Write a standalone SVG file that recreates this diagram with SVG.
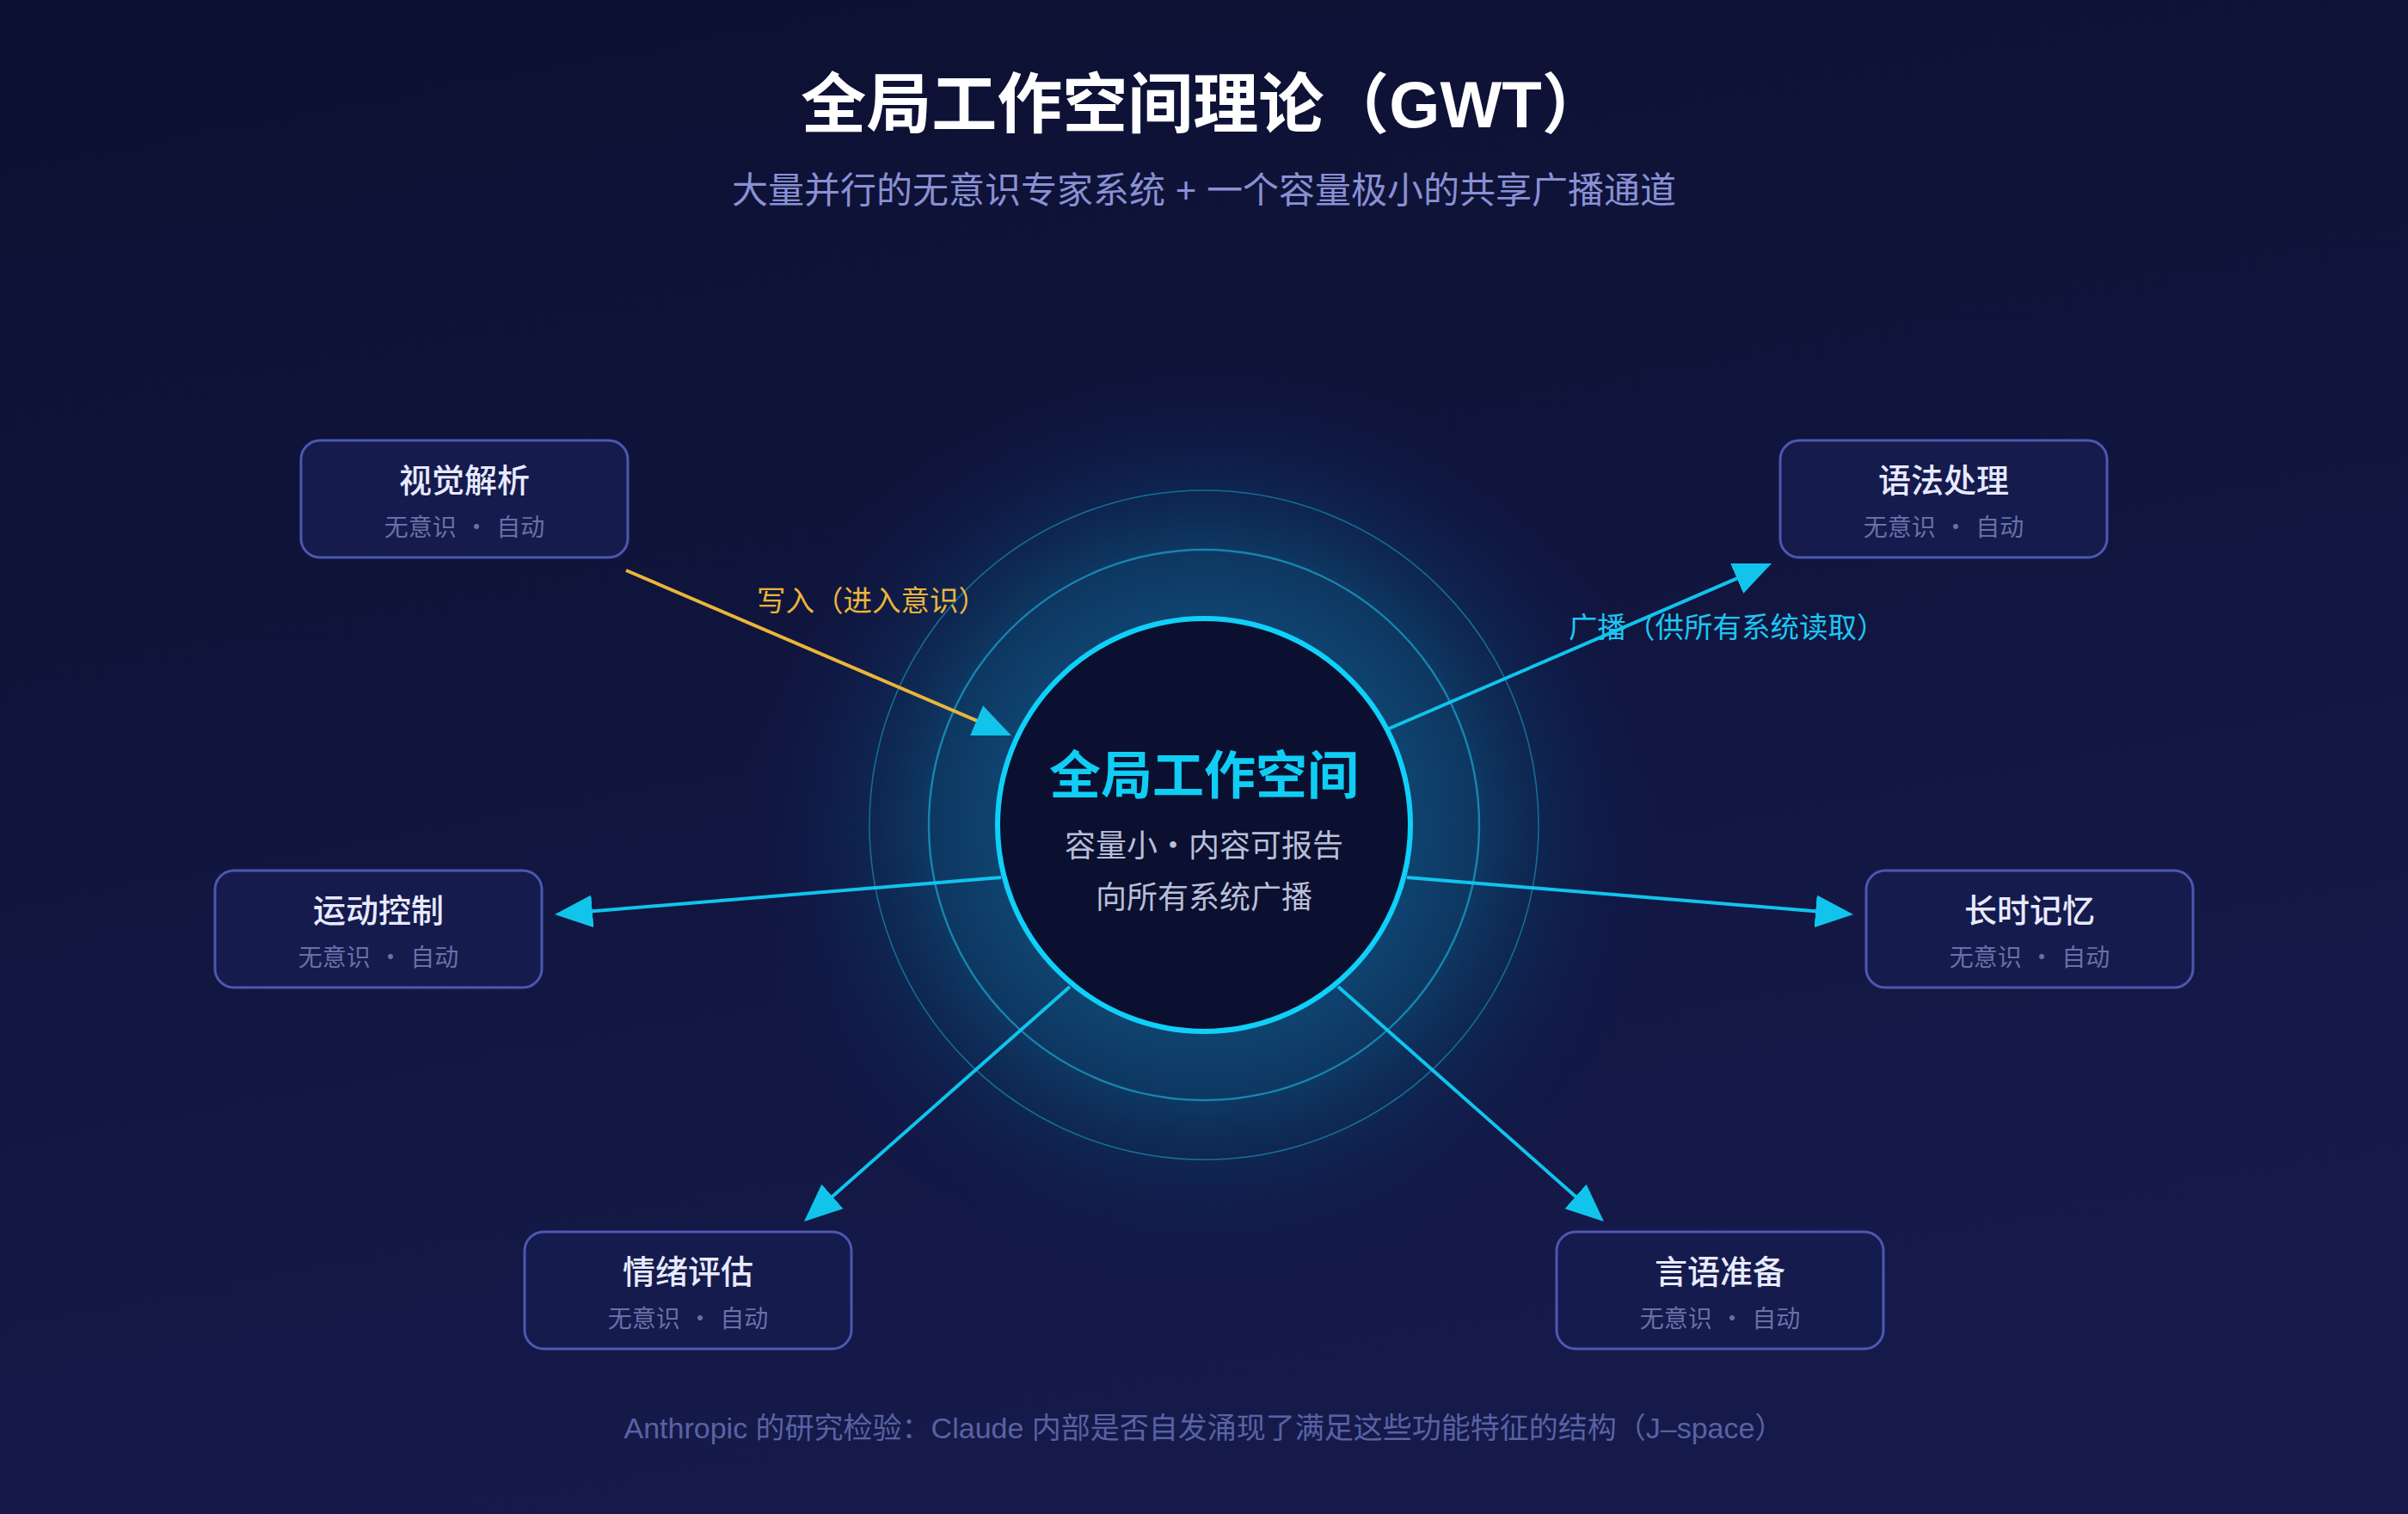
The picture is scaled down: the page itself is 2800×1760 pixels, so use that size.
<svg xmlns="http://www.w3.org/2000/svg" width="2800" height="1760" viewBox="0 0 2800 1760">
  <defs>
    <linearGradient id="bg" x1="0" y1="0" x2="0.3" y2="1">
      <stop offset="0" stop-color="#0c1031"/>
      <stop offset="1" stop-color="#151a4a"/>
    </linearGradient>
    <radialGradient id="glow" gradientUnits="userSpaceOnUse" cx="1400" cy="959" r="540">
      <stop offset="0" stop-color="#0f4a78" stop-opacity="1"/>
      <stop offset="0.44" stop-color="#0f4470" stop-opacity="1"/>
      <stop offset="0.6" stop-color="#0d3a64" stop-opacity="0.9"/>
      <stop offset="0.73" stop-color="#0d2c58" stop-opacity="0.65"/>
      <stop offset="0.88" stop-color="#0e2050" stop-opacity="0.25"/>
      <stop offset="1" stop-color="#0e1a48" stop-opacity="0"/>
    </radialGradient>
    <marker id="arrow" markerUnits="userSpaceOnUse" markerWidth="46" markerHeight="38" refX="36" refY="19" orient="auto">
      <path d="M0,0 L44,19 L0,38 z" fill="#10c4ec"/>
    </marker>
    <style>
      text { font-family: "Liberation Sans", "Noto Sans CJK SC", sans-serif; }
      .node rect { fill: #151b4d; stroke: #4c58b0; stroke-width: 3; }
      .nt { font-size: 38px; fill: #e8eaff; text-anchor: middle; font-weight: 500; }
      .ns { font-family: "Noto Sans CJK SC", sans-serif; font-size: 28px; fill: #6a70a8; text-anchor: middle; word-spacing: 3px; }
      .conn { fill: none; stroke-width: 4; stroke-linecap: butt; marker-end: url(#arrow); }
      .cy { stroke: #10c4ec; }
      .yl { stroke: #eab53a; }
    </style>
  </defs>

  <rect x="0" y="0" width="2800" height="1760" fill="url(#bg)"/>

  <g id="title">
    <text x="1400" y="148" font-size="76" font-weight="bold" fill="#ffffff" text-anchor="middle">全局工作空间理论（GWT）</text>
    <text x="1400" y="236" font-size="42" fill="#8a90d4" text-anchor="middle">大量并行的无意识专家系统 + 一个容量极小的共享广播通道</text>
  </g>

  <g id="glow-rings">
    <circle cx="1400" cy="959" r="540" fill="url(#glow)"/>
    <circle cx="1400" cy="959" r="389" fill="none" stroke="#157fa8" stroke-width="1.6" stroke-opacity="0.8"/>
    <circle cx="1400" cy="959" r="320" fill="none" stroke="#1893bd" stroke-width="2.4" stroke-opacity="0.85"/>
  </g>

  <g id="connectors">
    <line class="conn yl" x1="728" y1="663" x2="1168.6" y2="851.8"/>
    <line class="conn cy" x1="1615" y1="847" x2="2052.7" y2="658.2"/>
    <line class="conn cy" x1="1164" y1="1020" x2="653" y2="1062.3"/>
    <line class="conn cy" x1="1636" y1="1020" x2="2147" y2="1062.3"/>
    <line class="conn cy" x1="1244" y1="1147" x2="941" y2="1414.7"/>
    <line class="conn cy" x1="1556" y1="1147" x2="1859" y2="1414.7"/>
    <text x="880" y="710" font-size="33.5" fill="#eab53a">写入（进入意识）</text>
    <text x="1824" y="741" font-size="33.5" fill="#1ec6f0">广播（供所有系统读取）</text>
  </g>

  <g id="workspace">
    <circle cx="1400" cy="959" r="240" fill="#0b1030" stroke="#0fd0f8" stroke-width="6"/>
    <text x="1400" y="923" font-size="60" font-weight="bold" fill="#10cdf5" text-anchor="middle">全局工作空间</text>
    <text x="1400" y="996" font-size="36" fill="#b8bfd8" text-anchor="middle">容量小・内容可报告</text>
    <text x="1400" y="1056" font-size="36" fill="#b8bfd8" text-anchor="middle">向所有系统广播</text>
  </g>

  <g id="node-vision" class="node">
    <rect x="350" y="512" width="380" height="136" rx="22"/>
    <text class="nt" x="540" y="572">视觉解析</text>
    <text class="ns" x="540" y="623">无意识 · 自动</text>
  </g>
  <g id="node-syntax" class="node">
    <rect x="2070" y="512" width="380" height="136" rx="22"/>
    <text class="nt" x="2260" y="572">语法处理</text>
    <text class="ns" x="2260" y="623">无意识 · 自动</text>
  </g>
  <g id="node-motor" class="node">
    <rect x="250" y="1012" width="380" height="136" rx="22"/>
    <text class="nt" x="440" y="1072">运动控制</text>
    <text class="ns" x="440" y="1123">无意识 · 自动</text>
  </g>
  <g id="node-memory" class="node">
    <rect x="2170" y="1012" width="380" height="136" rx="22"/>
    <text class="nt" x="2360" y="1072">长时记忆</text>
    <text class="ns" x="2360" y="1123">无意识 · 自动</text>
  </g>
  <g id="node-emotion" class="node">
    <rect x="610" y="1432" width="380" height="136" rx="22"/>
    <text class="nt" x="800" y="1492">情绪评估</text>
    <text class="ns" x="800" y="1543">无意识 · 自动</text>
  </g>
  <g id="node-speech" class="node">
    <rect x="1810" y="1432" width="380" height="136" rx="22"/>
    <text class="nt" x="2000" y="1492">言语准备</text>
    <text class="ns" x="2000" y="1543">无意识 · 自动</text>
  </g>

  <g id="footer">
    <text x="1400" y="1672" font-size="34" fill="#5a62a4" text-anchor="middle">Anthropic 的研究检验：Claude 内部是否自发涌现了满足这些功能特征的结构（J–space）</text>
  </g>
</svg>
